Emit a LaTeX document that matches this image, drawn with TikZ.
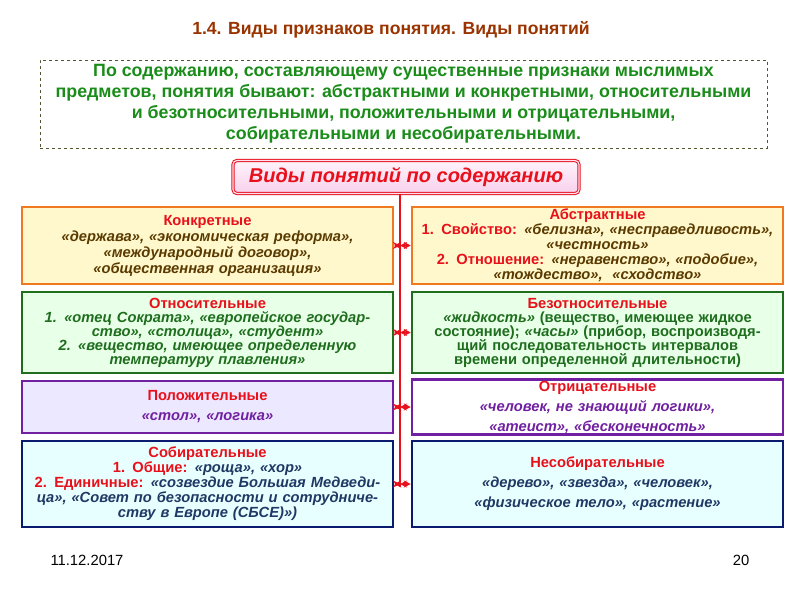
\documentclass[tikz,border=0pt]{standalone}
\usepackage{fontspec}
\setmainfont{Liberation Sans}
\usetikzlibrary{arrows.meta}
\definecolor{ttl}{HTML}{993300}
\definecolor{grn}{HTML}{1A8C1A}
\definecolor{rd}{HTML}{E8101A}
\definecolor{brn}{HTML}{5A3A00}
\definecolor{dgrn}{HTML}{1E6E1E}
\definecolor{pur}{HTML}{7020A0}
\definecolor{nav}{HTML}{0A1A6E}
\definecolor{nvt}{HTML}{1F3864}
\definecolor{dsh}{HTML}{555533}
\definecolor{org}{HTML}{F07820}
\definecolor{yfl}{HTML}{FFF8CC}
\definecolor{gfl}{HTML}{E8FFE8}
\definecolor{pfl}{HTML}{ECE8FF}
\definecolor{cfl}{HTML}{E8FFFF}
\definecolor{pk1}{HTML}{FFF4FB}
\definecolor{pk2}{HTML}{F8D0EC}
\definecolor{pk3}{HTML}{FFE0F0}
\tikzset{
 box/.style={draw,line width=2.5pt,minimum width=371pt,inner sep=1pt,align=center,text width=368pt,font=\bfseries\fontsize{14.7}{16}\selectfont},
 ybox/.style={box,draw=org, fill=yfl},
 gbox/.style={box,draw=dgrn, fill=gfl},
 pbox/.style={box,draw=pur, fill=pfl},
 wbox/.style={box,draw=pur, fill=white},
 cbox/.style={box,draw=nav, fill=cfl},
 dbl/.style={rd,line width=1.8pt,{Stealth[length=7pt,width=7pt]}-{Stealth[length=7pt,width=7pt]}}
}
\begin{document}
\begin{tikzpicture}[x=1pt,y=-1pt]
\useasboundingbox (0,0) rectangle (800,600);
\node[font=\bfseries\fontsize{17.6}{20}\selectfont,text=ttl] (title) at (391,30) {1.4. Виды признаков понятия. Виды понятий};
\node[draw=dsh,dashed,line width=0.8pt,minimum width=727pt,minimum height=88pt,align=center,text=grn,font=\bfseries\fontsize{17.8}{21}\selectfont] (top) at (403.5,104)
 {По содержанию, составляющему существенные признаки мыслимых\\предметов, понятия бывают: абстрактными и конкретными, относительными\\и безотносительными, положительными и отрицательными,\\собирательными и несобирательными.};
\node[draw=rd,double=pk3,double distance=1.2pt,line width=1pt,rounded corners=4pt,minimum width=346pt,minimum height=33pt,top color=pk1,bottom color=pk2,text=rd,font=\bfseries\itshape\fontsize{20}{22}\selectfont] (hdr) at (406,177) {Виды понятий по содержанию};
% left
\node[ybox,minimum height=77pt] (l1) at (207.5,245.5) {\color{rd}Конкретные\\\color{brn}\itshape «держава», «экономическая реформа»,\\«международный договор»,\\«общественная организация»};
\node[gbox,minimum height=81pt,font=\bfseries\fontsize{14.7}{14}\selectfont] (l2) at (207.5,332.5) {\color{rd}Относительные\\\color{dgrn}\itshape 1. «отец Сократа», «европейское государ-\\ство», «столица», «студент»\\2. «вещество, имеющее определенную\\температуру плавления»};
\node[pbox,minimum height=52pt,font=\bfseries\fontsize{14.7}{20}\selectfont] (l3) at (207.5,407) {\color{rd}Положительные\\\color{pur}\itshape «стол», «логика»};
\node[cbox,minimum height=86pt,font=\bfseries\fontsize{14.7}{15}\selectfont] (l4) at (207.5,484) {\color{rd}Собирательные\\1. Общие: {\color{nvt}\itshape «роща», «хор»}\\2. Единичные: {\color{nvt}\itshape «созвездие Большая Медведи-\\ца», «Совет по безопасности и сотрудниче-\\ству в Европе (СБСЕ)»)}};
% right
\node[ybox,minimum height=77pt,font=\bfseries\fontsize{14.7}{15}\selectfont] (r1) at (597.5,245.5) {\color{rd}Абстрактные\\1. Свойство: {\color{brn}\itshape «белизна», «несправедливость»,\\«честность»}\\2. Отношение: {\color{brn}\itshape «неравенство», «подобие»,\\«тождество»,\ \ «сходство»}};
\node[gbox,minimum height=81pt,font=\bfseries\fontsize{14.7}{14}\selectfont] (r2) at (597.5,332.5) {\color{rd}Безотносительные\\\color{dgrn}{\itshape «жидкость»} (вещество, имеющее жидкое\\состояние); {\itshape «часы»} (прибор, воспроизводя-\\щий последовательность интервалов\\времени определенной длительности)};
\node[wbox,minimum height=52pt,font=\bfseries\fontsize{14.7}{20}\selectfont] (r3) at (597.5,407) {\color{rd}Отрицательные\\\color{pur}\itshape «человек, не знающий логики»,\\«атеист», «бесконечность»};
\node[cbox,minimum height=86pt,font=\bfseries\fontsize{14.7}{20}\selectfont] (r4) at (597.5,484) {\color{rd}Несобирательные\\\color{nvt}\itshape «дерево», «звезда», «человек»,\\«физическое тело», «растение»};
% connectors
\coordinate (top1) at (400,194);
\coordinate (bot1) at (400,487);
\draw[rd,line width=2.2pt] (top1) -- (bot1);
\foreach \a/\b in {l1/r1,l2/r2,l3/r3,l4/r4}{
 \draw[dbl] (\a.east) -- (\a.east -| top1);
 \draw[dbl] (\b.west -| top1) -- (\b.west);
}
\node[font=\fontsize{14.8}{16}\selectfont] (date) at (87,560) {11.12.2017};
\node[font=\fontsize{14.8}{16}\selectfont] (pg) at (741,560) {20};
\end{tikzpicture}
\end{document}
